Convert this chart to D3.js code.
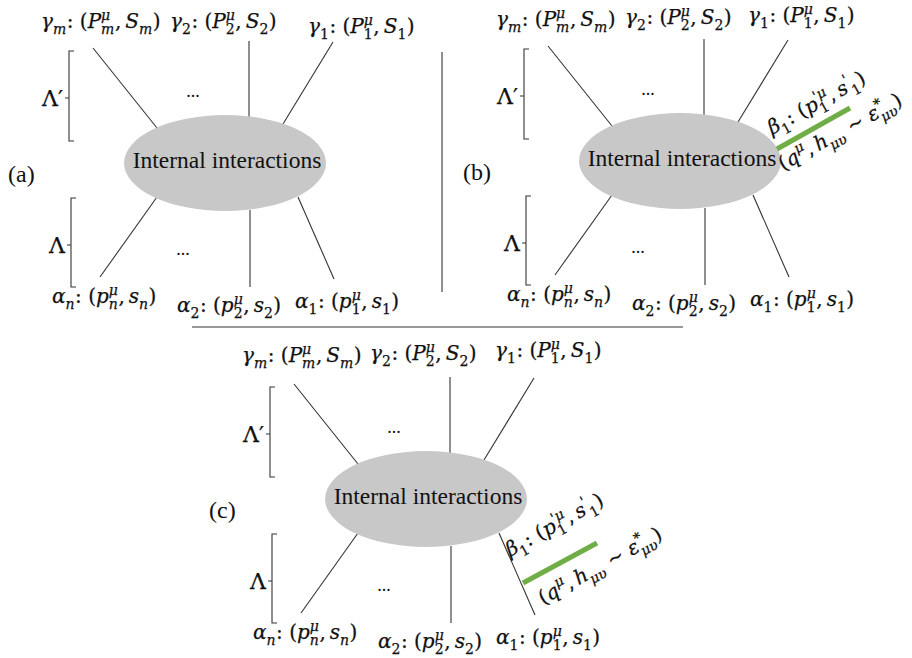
<!DOCTYPE html>
<html><head><meta charset="utf-8">
<script src="https://cdn.jsdelivr.net/npm/d3@7"></script>
<style>body{margin:0;background:#fff}svg text{white-space:pre}</style>
</head><body>
<svg id="fig" width="912" height="658"></svg>
<script>
// ---------- data ----------
const panelNames = ["(a)", "(b)", "(c)"];
const blobText = "Internal interactions";
const bracketLabels = ["Λ′", "Λ"];
const ellipsis = "...";
// outgoing (top) particle labels
const topLabels = [
  ["γ", {sub: "m"}, ": (", "P", {sup: "μ", sub: "m"}, ",\u2009", "S", {sub: "m"}, ")"],
  ["γ", {sub: "2"}, ": (", "P", {sup: "μ", sub: "2"}, ",\u2009", "S", {sub: "2"}, ")"],
  ["γ", {sub: "1"}, ": (", "P", {sup: "μ", sub: "1"}, ",\u2009", "S", {sub: "1"}, ")"]
];
// incoming (bottom) particle labels
const bottomLabels = [
  ["α", {sub: "n"}, ": (", "p", {sup: "μ", sub: "n"}, ",\u2009", "s", {sub: "n"}, ")"],
  ["α", {sub: "2"}, ": (", "p", {sup: "μ", sub: "2"}, ",\u2009", "s", {sub: "2"}, ")"],
  ["α", {sub: "1"}, ": (", "p", {sup: "μ", sub: "1"}, ",\u2009", "s", {sub: "1"}, ")"]
];
// emitted graviton labels (panels b, c)
const betaLabel = ["β", {sub: "1"}, ": (", "p", {sup: "'μ", sub: "1"}, ",\u2009", "s", {sup: "'", sub: "\u20091"}, ")"];
const gravLabel = ["(", "q", {sup: "μ"}, ",\u2009", "h", {sub: "μυ"}, " ~ ", "ε", {sup: "*", sub: "μυ"}, ")"];
const hasGraviton = [false, true, true];

// ---------- layout (diagram units, relative to blob centre) ----------
const centers = [[225, 163], [680, 161], [426, 499]];
const blob = {rx: 101, ry: 48};
const topLegs = [[-68, -35, -132, -115], [24, -46, 24, -122], [58, -39, 108, -121]];
const botLegs = [[-68, 34, -125, 114], [25, 47, 25, 124], [73, 34, 109, 116]];
const topPos = [[[-184, -135], [-55, -135], [83, -130]],
                [[-184, -135], [-55, -137], [68, -139]],
                [[-184, -137], [-56, -139], [69, -142]]];
const botPos = [[-173, 140], [-48, 149], [70, 145]];
const gravLine = [null, [97, -12, 170, -53], [97, 84, 171, 44]];
const betaPos = [null, [92, -26], [84, 58]];
const gravPos = [null, [103, 10], [117, 106]];
const gravAngle = -29;

const MATH = "'DejaVu Serif', serif";
const SERIF = "'Liberation Serif', 'Times New Roman', serif";
const mathSize = 20;

const svg = d3.select("#fig");

function runs(s) {
  const out = [];
  for (const ch of s) {
    const it = /[A-Za-z\u0370-\u03FF]/.test(ch);
    if (out.length && out[out.length - 1].it === it) out[out.length - 1].s += ch;
    else out.push({s: ch, it});
  }
  return out;
}
function putStr(g, str, x, y, fs) {
  let w = 0;
  runs(str).forEach(r => {
    const t = g.append("text").attr("x", x + w).attr("y", y)
      .style("font-family", MATH).style("font-size", fs + "px")
      .style("font-style", r.it ? "italic" : "normal")
      .attr("fill", "#111").attr("stroke", "#111").attr("stroke-width", 0.25)
      .text(r.s);
    w += t.node().getComputedTextLength();
  });
  return w;
}
function drawMath(g, tokens, fs) {
  let x = 0;
  tokens.forEach(tok => {
    if (typeof tok === "string") x += putStr(g, tok, x, 0, fs);
    else {
      const ss = fs * 0.7;
      let w = 0;
      if (tok.sup) w = Math.max(w, putStr(g, tok.sup, x, -fs * 0.42, ss));
      if (tok.sub) w = Math.max(w, putStr(g, tok.sub, x, fs * 0.3, ss));
      x += w + 0.5;
    }
  });
  return x;
}

panelNames.forEach((name, i) => {
  const [cx, cy] = centers[i];
  const X = d3.scaleLinear().domain([-250, 250]).range([cx - 250, cx + 250]);
  const Y = d3.scaleLinear().domain([-200, 200]).range([cy - 200, cy + 200]);
  const g = svg.append("g");

  // legs
  g.selectAll("line.leg").data(topLegs.concat(botLegs)).join("line")
    .attr("x1", d => X(d[0])).attr("y1", d => Y(d[1]))
    .attr("x2", d => X(d[2])).attr("y2", d => Y(d[3]))
    .attr("stroke", "#333").attr("stroke-width", 1.1);

  // blob
  g.append("ellipse").attr("cx", X(0)).attr("cy", Y(0))
    .attr("rx", X(blob.rx) - X(0)).attr("ry", Y(blob.ry) - Y(0))
    .attr("fill", "#c8c8c8");
  g.append("text").attr("x", X(2)).attr("y", Y(5)).attr("text-anchor", "middle")
    .style("font-family", SERIF).style("font-size", "23.5px").attr("fill", "#111")
    .text(blobText);

  // panel label
  g.append("text").attr("x", X(-217)).attr("y", Y(19))
    .style("font-family", SERIF).style("font-size", "24px").attr("fill", "#111")
    .text(name);

  // brackets
  const br = [[-156, -112, -22, -65], [-154, 35, 124, 82]];
  br.forEach((b, k) => {
    const bx = X(b[0]);
    g.append("path").attr("fill", "none").attr("stroke", "#333").attr("stroke-width", 1.1)
      .attr("d", `M${bx + 5},${Y(b[1])}H${bx}V${Y(b[2])}H${bx + 5}M${bx},${Y(b[3])}H${bx - 4}`);
    g.append("text").attr("x", bx - 6).attr("y", Y(b[3]) + 8).attr("text-anchor", "end")
      .style("font-family", MATH).style("font-size", "22px").attr("fill", "#111")
      .attr("stroke", "#111").attr("stroke-width", 0.25)
      .text(bracketLabels[k]);
  });

  // ellipses (dots)
  [[-32, -66], [-42, 92]].forEach(p => {
    g.append("text").attr("x", X(p[0])).attr("y", Y(p[1])).attr("text-anchor", "middle")
      .style("font-family", SERIF).style("font-size", "18px").attr("fill", "#111").text(ellipsis);
  });

  // labels
  topLabels.forEach((lab, k) => {
    const lg = g.append("g").attr("transform", `translate(${X(topPos[i][k][0])},${Y(topPos[i][k][1])})`);
    drawMath(lg, lab, mathSize);
  });
  bottomLabels.forEach((lab, k) => {
    const lg = g.append("g").attr("transform", `translate(${X(botPos[k][0])},${Y(botPos[k][1])})`);
    drawMath(lg, lab, mathSize);
  });

  // graviton
  if (hasGraviton[i]) {
    const L = gravLine[i];
    g.append("line").attr("x1", X(L[0])).attr("y1", Y(L[1])).attr("x2", X(L[2])).attr("y2", Y(L[3]))
      .attr("stroke", "#70ad47").attr("stroke-width", 5);
    const bg = g.append("g").attr("transform", `translate(${X(betaPos[i][0])},${Y(betaPos[i][1])}) rotate(${gravAngle})`);
    drawMath(bg, betaLabel, mathSize);
    const gg = g.append("g").attr("transform", `translate(${X(gravPos[i][0])},${Y(gravPos[i][1])}) rotate(${gravAngle})`);
    drawMath(gg, gravLabel, mathSize);
  }

  // separators (drawn from panel a's frame)
  if (i === 0) {
    g.append("line").attr("x1", X(217)).attr("x2", X(217)).attr("y1", Y(-111)).attr("y2", Y(129))
      .attr("stroke", "#333").attr("stroke-width", 1.1);
    g.append("line").attr("x1", X(-33)).attr("x2", X(458)).attr("y1", Y(164)).attr("y2", Y(164))
      .attr("stroke", "#333").attr("stroke-width", 1.1);
  }
});
</script>
</body></html>
